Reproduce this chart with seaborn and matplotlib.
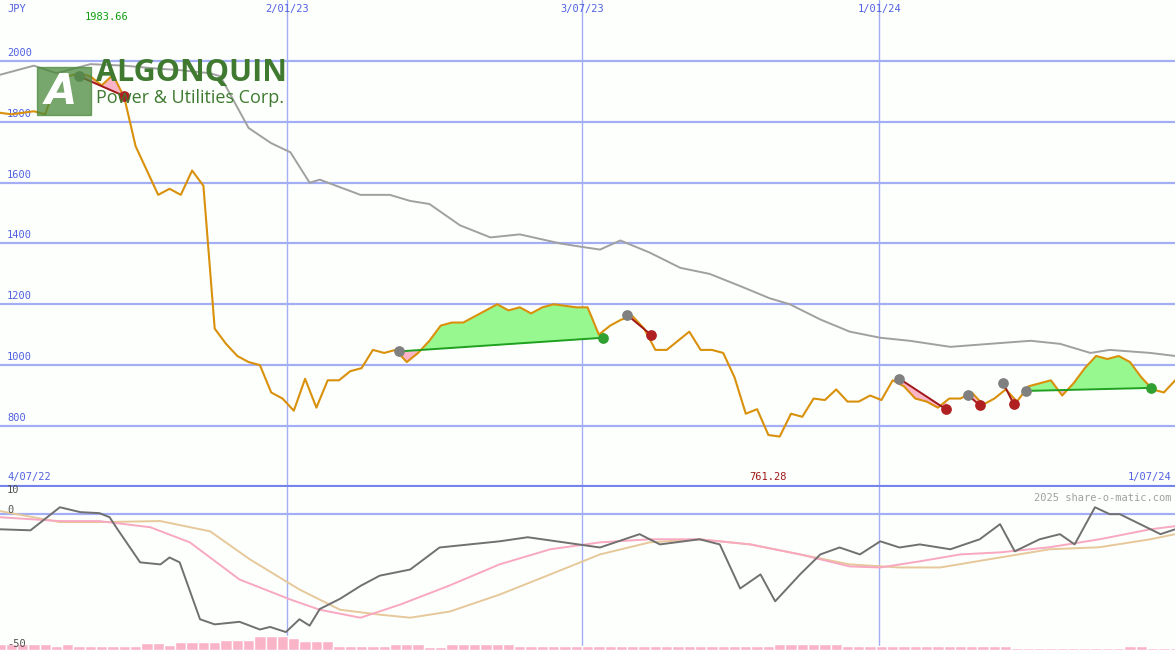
import numpy as np
import pandas as pd
import seaborn as sns
import matplotlib.pyplot as plt
from matplotlib.patches import Rectangle

# weekly price (JPY), week 0 = left edge
price = [1830, 1825, 1830, 1835, 1825, 1930, 1950, 1960, 1950, 1920, 1955, 1880, 1720, 1640,
         1560, 1580, 1560, 1640, 1590, 1120, 1070, 1030, 1010, 1000, 910, 890, 850, 955, 860,
         950, 950, 980, 990, 1050, 1040, 1050, 1010, 1040, 1080, 1130, 1140, 1140, 1160, 1180,
         1200, 1180, 1190, 1170, 1190, 1200, 1195, 1190, 1190, 1100, 1130, 1150, 1160, 1120,
         1050, 1050, 1080, 1110, 1050, 1050, 1040, 960, 840, 855, 770, 765, 840, 830, 890, 885,
         920, 880, 880, 900, 885, 950, 930, 890, 880, 860, 890, 890, 910, 870, 890, 920, 880,
         930, 940, 950, 900, 940, 990, 1030, 1020, 1030, 1010, 960, 920, 910, 950]
gray_wk = [0, 3, 5, 8, 11, 14, 16, 18.6, 19.5, 22, 24, 25.7, 27.4, 28.3, 31.9, 34.5, 36.3, 38,
           40.7, 43.4, 46, 49.6, 51.3, 53.1, 54.9, 57.5, 60.2, 62.8, 65.5, 68.1, 69.9, 72.6,
           75.2, 77.9, 80.5, 84.1, 87.6, 91.2, 93.8, 96.5, 98.2, 101.8, 104]
gray_px = [1955, 1985, 1960, 1990, 1985, 1975, 1970, 1960, 1950, 1780, 1730, 1700, 1600, 1610,
           1560, 1560, 1540, 1530, 1460, 1420, 1430, 1400, 1390, 1380, 1410, 1370, 1320, 1300,
           1260, 1220, 1200, 1150, 1110, 1090, 1080, 1060, 1070, 1080, 1070, 1040, 1050, 1040, 1030]

# trade signals: (entry week, entry price, exit week, exit price, winner)
trades = [(7.0, 1950, 11.0, 1885, False), (35.3, 1045, 53.4, 1090, True),
          (55.5, 1165, 57.6, 1100, False), (79.6, 955, 83.7, 855, False),
          (85.7, 900, 86.7, 868, False), (88.8, 940, 89.7, 872, False),
          (90.8, 915, 101.9, 925, True)]

osc_wk = [0, 2.7, 5.3, 7.1, 8.8, 9.7, 10.4, 12.4, 14.2, 15, 15.9, 17.7, 19, 21.2, 23, 23.9, 25.3,
          26.5, 27.4, 28.3, 30.1, 31.9, 33.6, 36.3, 38.9, 44.2, 46.7, 53.1, 56.6, 58.4, 61.9,
          63.7, 65.5, 67.3, 68.6, 70.8, 72.6, 74.3, 76.1, 77.9, 79.6, 81.4, 84.1, 86.7, 88.5,
          89.8, 92, 93.8, 95.1, 96.9, 98.2, 99.1, 100.9, 102.7, 104]
osc = [-5.9, -6.3, 2.7, 0.8, 0.4, -1.2, -5.9, -18.8, -19.6, -16.9, -18.8, -41, -43, -42, -45,
       -44, -46, -41, -43.5, -37, -33, -28, -24, -21.6, -13, -10.6, -9, -13, -7.8, -11.8, -9.8,
       -11.8, -29, -23.5, -34, -23.5, -15.7, -13, -15.7, -10.6, -13, -11.8, -13.7, -9.8, -3.9,
       -14.5, -9.8, -7.8, -11.8, 2.7, 0, 0, -3.9, -7.8, -5.9]
pink_wk = [0, 5.3, 8.8, 13.3, 16.8, 21.2, 25.7, 28.3, 31.9, 35.4, 39.8, 44.2, 48.7, 53.1, 57.5,
           61.9, 66.4, 70.8, 75.2, 77.9, 81.4, 85, 88.5, 92.9, 97.3, 101.8, 104]
pink = [-1.2, -2.7, -2.7, -5.1, -11, -25.5, -33.3, -37.3, -40.4, -35.3, -27.8, -19.6, -13.7,
        -11, -9.8, -9.8, -11.8, -15.7, -20.4, -20.8, -18.4, -15.7, -14.9, -12.9, -9.8, -5.9, -4.7]
tan_wk = [0, 5.3, 8.8, 14.2, 18.6, 22.1, 26.5, 30.1, 33.6, 36.3, 39.8, 44.2, 48.7, 53.1, 57.5,
          61.9, 66.4, 70.8, 75.2, 79.6, 83.2, 88.5, 92.9, 97.3, 101.8, 104]
tan = [1.2, -3.1, -3.1, -2.7, -6.7, -17.6, -29.4, -37.3, -39.2, -40.4, -38, -31.4, -23.5, -15.7,
       -11, -9.8, -11.8, -15.7, -19.6, -20.8, -20.8, -16.9, -13.7, -12.9, -9.8, -7.8]
volume = [2.4] * 5 + [1.6] + [2.4] + [1.6] * 6 + [2.8, 2.8, 2.0] + [3.1] * 4 + [3.9] * 3 + \
         [5.5] * 3 + [4.7, 3.5, 3.5, 3.5] + [1.6] * 5 + [2.4] * 3 + [1.2, 1.2] + [2.4] * 6 + \
         [1.6] * 23 + [2.4] * 6 + [1.6] * 15 + [0.8] * 10 + [1.6] * 2 + [0.8] * 5
vol_wk = list(range(len(volume)))

vlines = [25.4, 51.5, 77.8]
vlabels = ['2/01/23', '3/07/23', '1/01/24']
grid_blue = '#a4aef4'

sns.set_style('white')
fig = plt.figure(figsize=(11.75, 6.5), dpi=100)
ax = fig.add_axes([0, 1 - 487 / 650, 1, 487 / 650])
ax2 = fig.add_axes([0, 0, 1, 163 / 650])
weeks = np.arange(len(price))
xmax = 1175 / 11.3

for a in (ax, ax2):
    a.set_xlim(0, xmax)
    a.set_axis_off()
    for v in vlines:
        a.axvline(v, color=grid_blue, lw=1, zorder=1)
ax.set_ylim(599, 2201)
ax2.set_ylim(-53, 10.6)
for y in range(800, 2001, 200):
    ax.axhline(y, color=grid_blue, lw=1.6, zorder=1)
    ax.text(0.006, y + 10, str(y), transform=ax.get_yaxis_transform(), fontsize=7.5,
            family='DejaVu Sans Mono', color='#5060e0', va='bottom')
ax.axhline(599, color='#7484ec', lw=3, zorder=3)

# fills and trade lines
for w0, p0, w1, p1, win in trades:
    ws = np.linspace(w0, w1, 60)
    pw = np.interp(ws, weeks, price)
    ln = np.interp(ws, [w0, w1], [p0, p1])
    if win:
        ax.fill_between(ws, pw, ln, where=pw >= ln, color='#98f890', zorder=2, lw=0)
        ax.fill_between(ws, pw, ln, where=pw < ln, color='#fab4c8', zorder=2, lw=0)
    else:
        ax.fill_between(ws, pw, ln, color='#fab4c8', zorder=2, lw=0)

sns.lineplot(x=gray_wk, y=gray_px, ax=ax, color='#a0a0a0', lw=1.4, zorder=3)
sns.lineplot(x=weeks, y=price, ax=ax, color='#d9900a', lw=1.5, zorder=4)
for w0, p0, w1, p1, win in trades:
    c = '#20a020' if win else '#a01818'
    ax.plot([w0, w1], [p0, p1], color=c, lw=1.4, zorder=5)
    ax.scatter([w0], [p0], s=45, color='#808080', zorder=6)
    ax.scatter([w1], [p1], s=45, color='#30a030' if win else '#b02020', zorder=6)

# logo
ax.add_patch(Rectangle((37 / 11.3, 1822), 54 / 11.3, 160, color='#4a8a3c', alpha=0.75, zorder=7))
ax.text(45 / 11.3, 1900, 'A', fontsize=30, color='white', fontweight='bold', style='italic',
        va='center', zorder=8)
ax.text(96 / 11.3, 1960, 'ALGONQUIN', fontsize=22, color='#3f7a30', fontweight='bold',
        va='center', zorder=8, family='Open Sans')
ax.text(96 / 11.3, 1878, 'Power & Utilities Corp.', fontsize=13, color='#3f7a30',
        va='center', zorder=8, family='Open Sans')

# top labels
ax.text(7 / 11.3, 2160, 'JPY', fontsize=7.5, color='#5060e0', family='DejaVu Sans Mono')
ax.text(85 / 11.3, 2135, '1983.66', fontsize=7.5, color='#10a010', family='DejaVu Sans Mono')
for v, lab in zip(vlines, vlabels):
    ax.text(v, 2160, lab, fontsize=7.5, color='#5060e0', family='DejaVu Sans Mono', ha='center')

# oscillator panel
ax2.axhline(0, color=grid_blue, lw=1.6, zorder=1)
ax2.bar(vol_wk, volume, width=1.0, bottom=-53, color='#fab4c8', zorder=2)
sns.lineplot(x=tan_wk, y=tan, ax=ax2, color='#e6c89a', lw=1.4, zorder=3)
sns.lineplot(x=pink_wk, y=pink, ax=ax2, color='#f8a8c0', lw=1.4, zorder=3)
sns.lineplot(x=osc_wk, y=osc, ax=ax2, color='#707070', lw=1.4, zorder=4)
mono = dict(fontsize=7.5, family='DejaVu Sans Mono')
ax2.text(0.006, 9.5, '10', color='#505050', va='center', transform=ax2.get_yaxis_transform(), **mono)
ax2.text(0.006, 1.8, '0', color='#505050', va='center', transform=ax2.get_yaxis_transform(), **mono)
ax2.text(0.006, -50.5, '-50', color='#505050', va='center', transform=ax2.get_yaxis_transform(), **mono)
ax.text(0.006, 622, '4/07/22', color='#5060e0', transform=ax.get_yaxis_transform(), **mono)
ax.text(0.997, 622, '1/07/24', color='#5060e0', ha='right', transform=ax.get_yaxis_transform(), **mono)
ax.text(768 / 11.3, 622, '761.28', color='#a01818', ha='center', **mono)
ax2.text(0.997, 6.5, '2025 share-o-matic.com', color='#a0a0a0', ha='right', va='center',
         transform=ax2.get_yaxis_transform(), **mono)

fig.savefig('out.png', dpi=100, facecolor='#fdfffd')
